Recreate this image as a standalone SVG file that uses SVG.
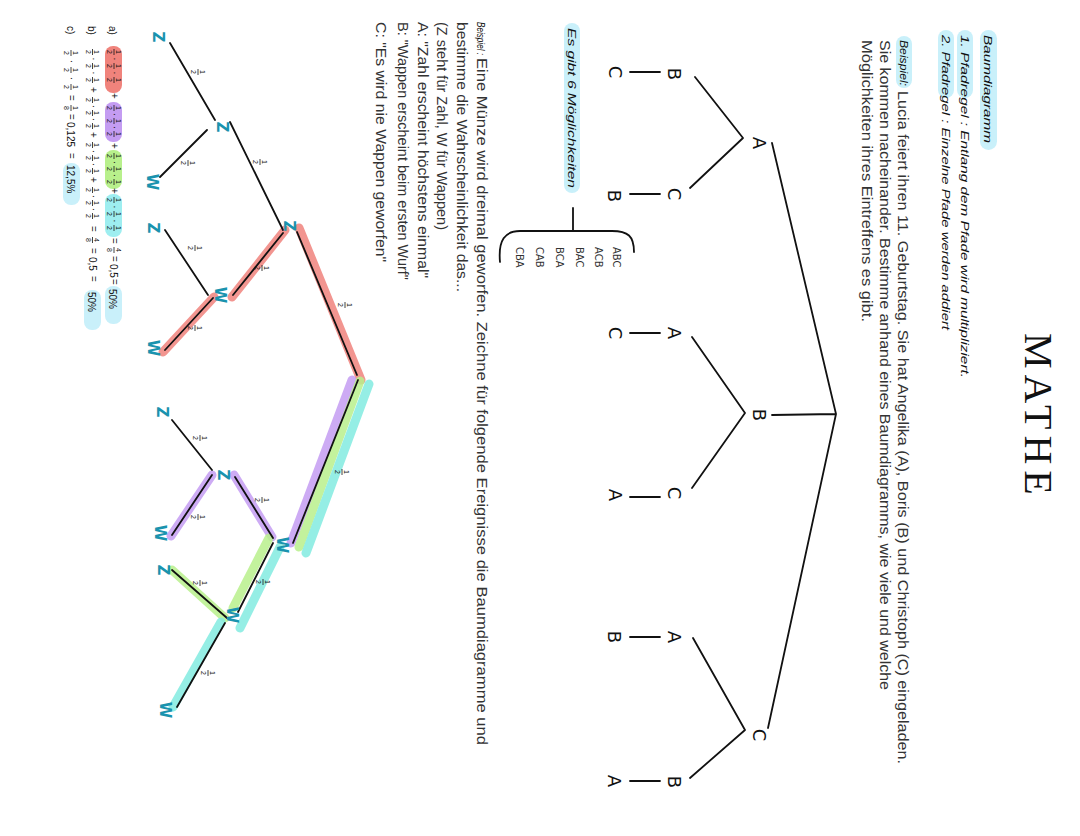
<svg xmlns="http://www.w3.org/2000/svg" width="1080" height="836" viewBox="0 0 1080 836">
<style>
.pr{font-family:"Liberation Sans",Arial,sans-serif;font-size:15px;fill:#333}
.hw{font-family:"Liberation Sans",Arial,sans-serif;font-style:italic;fill:#111}
.ttl{font-family:"Liberation Serif","Times New Roman",serif;font-size:40px;fill:#111;letter-spacing:6px}
.lbl{font-family:"DejaVu Sans",sans-serif;font-size:18px;fill:#111;text-anchor:middle}
.perm{font-family:"DejaVu Sans",sans-serif;font-size:10px;fill:#333}
.teal{font-family:"DejaVu Sans",sans-serif;font-weight:bold;font-size:15px;fill:#1a93ae;text-anchor:middle}
.pill{fill:#c9f0fa}
.e{stroke:#111;stroke-width:1.8;fill:none;stroke-linecap:round}
.hl{fill:none;stroke-width:9;stroke-linecap:round;opacity:.85}
.red{stroke:#f0837c}.pur{stroke:#c49cf2}.grn{stroke:#b8f08c}.cya{stroke:#82ebe0}
.pred{fill:#f0837c}.ppur{fill:#c49cf2}.pgrn{fill:#b8f08c}.pcya{fill:#9eeef0}
.f text{font-family:"Liberation Sans",Arial,sans-serif;font-size:7px;fill:#111;text-anchor:middle}
.f line{stroke:#111;stroke-width:.8}
.c{font-family:"Liberation Sans",Arial,sans-serif;font-size:10px;fill:#111}
.cm{font-family:"Liberation Sans",Arial,sans-serif;font-size:10px;fill:#111;text-anchor:middle}
</style>
<rect width="1080" height="836" fill="#fff"/>
<g transform="matrix(0,1,-1,0,1080,0)">
  <g id="title"><text class="ttl" x="333" y="55">MATHE</text></g>
  <g id="rules">
    <rect class="pill" x="30" y="83" width="120" height="17" rx="8.5"/>
    <text class="hw" x="35" y="96" font-size="11" textLength="108" lengthAdjust="spacingAndGlyphs">Baumdiagramm</text>
    <rect class="pill" x="30" y="107" width="68" height="16" rx="8"/>
    <text class="hw" x="35" y="119" font-size="11" textLength="343" lengthAdjust="spacingAndGlyphs">1. Pfadregel : Entlang dem Pfade wird multipliziert.</text>
    <rect class="pill" x="30" y="126" width="68" height="16" rx="8"/>
    <text class="hw" x="35" y="138" font-size="11" textLength="295" lengthAdjust="spacingAndGlyphs">2. Pfadregel : Einzelne Pfade werden addiert</text>
  </g>
  <g id="example1">
    <rect class="pill" x="36" y="168" width="52" height="16" rx="8"/>
    <text class="hw" x="40" y="180" font-size="11" textLength="46" lengthAdjust="spacingAndGlyphs">Beispiel:</text>
    <text class="pr" x="91" y="182" textLength="673" lengthAdjust="spacingAndGlyphs">Lucia feiert ihren 11. Geburtstag. Sie hat Angelika (A), Boris (B) und Christoph (C) eingeladen.</text>
    <text class="pr" x="40" y="200" textLength="650" lengthAdjust="spacingAndGlyphs">Sie kommen nacheinander. Bestimme anhand eines Baumdiagramms, wie viele und welche</text>
    <text class="pr" x="40" y="218" textLength="282" lengthAdjust="spacingAndGlyphs">Möglichkeiten ihres Eintreffens es gibt.</text>
  </g>
  <g id="connectors-tree1">
    <path class="e" d="M414 244 L143 308 M414 244 L415 308 M414 244 L728 312"/>
    <path class="e" d="M138 337 L77 385 M138 337 L188 390 M413 335 L337 388 M413 335 L488 388 M730 335 L638 387 M730 335 L778 390"/>
    <path class="e" d="M72 420 L72 450 M194 420 L194 450 M333 420 L333 450 M497 420 L497 450 M637 420 L637 450 M781 420 L781 450"/>
  </g>
  <g id="t1-A"><text class="lbl" x="143" y="327">A</text></g>
  <g id="t1-B"><text class="lbl" x="415" y="327">B</text></g>
  <g id="t1-C"><text class="lbl" x="735" y="327">C</text></g>
  <g id="t1-AB"><text class="lbl" x="74" y="412">B</text></g>
  <g id="t1-AC"><text class="lbl" x="194" y="412">C</text></g>
  <g id="t1-BA"><text class="lbl" x="333" y="412">A</text></g>
  <g id="t1-BC"><text class="lbl" x="493" y="412">C</text></g>
  <g id="t1-CA"><text class="lbl" x="637" y="412">A</text></g>
  <g id="t1-CB"><text class="lbl" x="782" y="412">B</text></g>
  <g id="t1-ABC"><text class="lbl" x="72" y="471">C</text></g>
  <g id="t1-ACB"><text class="lbl" x="196" y="472">B</text></g>
  <g id="t1-BAC"><text class="lbl" x="333" y="471">C</text></g>
  <g id="t1-BCA"><text class="lbl" x="495" y="471">A</text></g>
  <g id="t1-CAB"><text class="lbl" x="637" y="472">B</text></g>
  <g id="t1-CBA"><text class="lbl" x="781" y="472">A</text></g>
  <g id="result">
    <rect class="pill" x="23" y="500" width="170" height="16" rx="8"/>
    <text class="hw" x="28" y="512" font-size="10.5" textLength="160" lengthAdjust="spacingAndGlyphs">Es gibt 6 Möglichkeiten</text>
    <path class="e" stroke-width="1.6" d="M208 507 L231 507 M252 446 C236 446 231 452 231 468 L231 560 C231 575 240 582 262 580"/>
    <text class="perm" x="247" y="467">ABC</text>
    <text class="perm" x="247" y="485">ACB</text>
    <text class="perm" x="247" y="504">BAC</text>
    <text class="perm" x="247" y="524">BCA</text>
    <text class="perm" x="247" y="544">CAB</text>
    <text class="perm" x="247" y="564">CBA</text>
  </g>
  <g id="example2">
    <text class="hw" x="22" y="603" font-size="11" textLength="33" lengthAdjust="spacingAndGlyphs">Beispiel :</text>
    <text class="pr" x="58" y="603" textLength="687" lengthAdjust="spacingAndGlyphs">Eine Münze wird dreimal geworfen. Zeichne für folgende Ereignisse die Baumdiagramme und</text>
    <text class="pr" x="22" y="623" textLength="270" lengthAdjust="spacingAndGlyphs">bestimme die Wahrscheinlichkeit das...</text>
    <text class="pr" x="22" y="643" textLength="208" lengthAdjust="spacingAndGlyphs">(Z steht für Zahl, W für Wappen)</text>
    <text class="pr" x="22" y="662" textLength="256" lengthAdjust="spacingAndGlyphs">A: "Zahl erscheint höchstens einmal"</text>
    <text class="pr" x="22" y="682" textLength="258" lengthAdjust="spacingAndGlyphs">B: "Wappen erscheint beim ersten Wurf"</text>
    <text class="pr" x="22" y="704" textLength="240" lengthAdjust="spacingAndGlyphs">C: "Es wird nie Wappen geworfen"</text>
  </g>
  <g id="highlights">
    <path class="hl red" d="M380 719 L228 781 M230 795 L297 848 M297 866 L352 917"/>
    <path class="hl pur" d="M380 728 L543 789 M537 808 L475 846 M475 868 L536 909"/>
    <path class="hl grn" d="M381 720 L547 781 M538 811 L608 847 M618 855 L570 908"/>
    <path class="hl cya" d="M384 711 L553 774 M547 800 L628 840 M622 859 L707 907"/>
  </g>
  <g id="connectors-tree2">
    <path class="e" d="M375 723 L232 783 M380 722 L543 787"/>
    <path class="e" d="M230 797 L122 850 M233 797 L295 847 M538 807 L477 845 M543 807 L612 842"/>
    <path class="e" d="M120 865 L43 910 M130 873 L177 920 M295 872 L230 915 M298 867 L350 915 M470 868 L420 908 M475 868 L535 908 M618 853 L570 908 M623 855 L707 903"/>
  </g>
  <g id="t2-fractions" class="f">
    <g transform="translate(305,735)"><text y="-1.5">1</text><line x1="-3" x2="3"/><text y="7">2</text></g>
    <g transform="translate(472,738)"><text y="-1.5">1</text><line x1="-3" x2="3"/><text y="7">2</text></g>
    <g transform="translate(162,820)"><text y="-1.5">1</text><line x1="-3" x2="3"/><text y="7">2</text></g>
    <g transform="translate(268,818)"><text y="-1.5">1</text><line x1="-3" x2="3"/><text y="7">2</text></g>
    <g transform="translate(72,882)"><text y="-1.5">1</text><line x1="-3" x2="3"/><text y="7">2</text></g>
    <g transform="translate(163,892)"><text y="-1.5">1</text><line x1="-3" x2="3"/><text y="7">2</text></g>
    <g transform="translate(248,885)"><text y="-1.5">1</text><line x1="-3" x2="3"/><text y="7">2</text></g>
    <g transform="translate(328,885)"><text y="-1.5">1</text><line x1="-3" x2="3"/><text y="7">2</text></g>
    <g transform="translate(500,818)"><text y="-1.5">1</text><line x1="-3" x2="3"/><text y="7">2</text></g>
    <g transform="translate(582,817)"><text y="-1.5">1</text><line x1="-3" x2="3"/><text y="7">2</text></g>
    <g transform="translate(438,880)"><text y="-1.5">1</text><line x1="-3" x2="3"/><text y="7">2</text></g>
    <g transform="translate(517,882)"><text y="-1.5">1</text><line x1="-3" x2="3"/><text y="7">2</text></g>
    <g transform="translate(583,880)"><text y="-1.5">1</text><line x1="-3" x2="3"/><text y="7">2</text></g>
    <g transform="translate(673,872)"><text y="-1.5">1</text><line x1="-3" x2="3"/><text y="7">2</text></g>
  </g>
  <g id="t2-Z"><text class="teal" x="226" y="796">Z</text></g>
  <g id="t2-W"><text class="teal" x="545" y="803">W</text></g>
  <g id="t2-ZZ"><text class="teal" x="127" y="863">Z</text></g>
  <g id="t2-ZW"><text class="teal" x="295" y="865">W</text></g>
  <g id="t2-ZZZ"><text class="teal" x="37" y="927">Z</text></g>
  <g id="t2-ZZW"><text class="teal" x="182" y="933">W</text></g>
  <g id="t2-ZWZ"><text class="teal" x="228" y="932">Z</text></g>
  <g id="t2-ZWW"><text class="teal" x="348" y="932">W</text></g>
  <g id="t2-WZ"><text class="teal" x="475" y="862">Z</text></g>
  <g id="t2-WW"><text class="teal" x="615" y="853">W</text></g>
  <g id="t2-WZZ"><text class="teal" x="412" y="923">Z</text></g>
  <g id="t2-WZW"><text class="teal" x="533" y="925">W</text></g>
  <g id="t2-WWZ"><text class="teal" x="570" y="922">Z</text></g>
  <g id="t2-WWW"><text class="teal" x="710" y="920">W</text></g>
  <g id="calc-a">
    <rect class="pred" x="46" y="958" width="47" height="17" rx="8"/>
    <rect class="ppur" x="102" y="958" width="40" height="17" rx="8"/>
    <rect class="pgrn" x="150" y="958" width="39" height="17" rx="8"/>
    <rect class="pcya" x="194" y="958" width="43" height="17" rx="8"/>
    <rect class="pill" x="286" y="958" width="38" height="17" rx="8"/>
    <text class="c" x="26" y="971" font-size="11">a)</text>
    <g class="f">
      <g transform="translate(52,966)"><text y="-1.5">1</text><line x1="-3" x2="3"/><text y="7">2</text></g>
      <g transform="translate(66,966)"><text y="-1.5">1</text><line x1="-3" x2="3"/><text y="7">2</text></g>
      <g transform="translate(80,966)"><text y="-1.5">1</text><line x1="-3" x2="3"/><text y="7">2</text></g>
      <g transform="translate(108,966)"><text y="-1.5">1</text><line x1="-3" x2="3"/><text y="7">2</text></g>
      <g transform="translate(121,966)"><text y="-1.5">1</text><line x1="-3" x2="3"/><text y="7">2</text></g>
      <g transform="translate(134,966)"><text y="-1.5">1</text><line x1="-3" x2="3"/><text y="7">2</text></g>
      <g transform="translate(156,966)"><text y="-1.5">1</text><line x1="-3" x2="3"/><text y="7">2</text></g>
      <g transform="translate(169,966)"><text y="-1.5">1</text><line x1="-3" x2="3"/><text y="7">2</text></g>
      <g transform="translate(182,966)"><text y="-1.5">1</text><line x1="-3" x2="3"/><text y="7">2</text></g>
      <g transform="translate(200,966)"><text y="-1.5">1</text><line x1="-3" x2="3"/><text y="7">2</text></g>
      <g transform="translate(214,966)"><text y="-1.5">1</text><line x1="-3" x2="3"/><text y="7">2</text></g>
      <g transform="translate(228,966)"><text y="-1.5">1</text><line x1="-3" x2="3"/><text y="7">2</text></g>
      <g transform="translate(250,966)"><text y="-1.5">4</text><line x1="-3" x2="3"/><text y="7">8</text></g>
    </g>
    <text class="cm" x="59" y="969">·</text><text class="cm" x="73" y="969">·</text>
    <text class="cm" x="96" y="969">+</text>
    <text class="cm" x="114.5" y="969">·</text><text class="cm" x="127.5" y="969">·</text>
    <text class="cm" x="146" y="969">+</text>
    <text class="cm" x="162.5" y="969">·</text><text class="cm" x="175.5" y="969">·</text>
    <text class="cm" x="191" y="969">+</text>
    <text class="cm" x="207" y="969">·</text><text class="cm" x="221" y="969">·</text>
    <text class="cm" x="241" y="969">=</text>
    <text class="cm" x="259" y="969">=</text>
    <text class="c" x="264" y="970">0,5</text>
    <text class="cm" x="282" y="969">=</text>
    <text class="c" x="289" y="971" font-size="11">50%</text>
  </g>
  <g id="calc-b">
    <rect class="pill" x="290" y="979" width="40" height="17" rx="8"/>
    <text class="c" x="26" y="992" font-size="11">b)</text>
    <g class="f">
      <g transform="translate(52,987.5)"><text y="-1.5">1</text><line x1="-3" x2="3"/><text y="7">2</text></g>
      <g transform="translate(66,987.5)"><text y="-1.5">1</text><line x1="-3" x2="3"/><text y="7">2</text></g>
      <g transform="translate(80,987.5)"><text y="-1.5">1</text><line x1="-3" x2="3"/><text y="7">2</text></g>
      <g transform="translate(100,987.5)"><text y="-1.5">1</text><line x1="-3" x2="3"/><text y="7">2</text></g>
      <g transform="translate(113,987.5)"><text y="-1.5">1</text><line x1="-3" x2="3"/><text y="7">2</text></g>
      <g transform="translate(126,987.5)"><text y="-1.5">1</text><line x1="-3" x2="3"/><text y="7">2</text></g>
      <g transform="translate(145,987.5)"><text y="-1.5">1</text><line x1="-3" x2="3"/><text y="7">2</text></g>
      <g transform="translate(158,987.5)"><text y="-1.5">1</text><line x1="-3" x2="3"/><text y="7">2</text></g>
      <g transform="translate(171,987.5)"><text y="-1.5">1</text><line x1="-3" x2="3"/><text y="7">2</text></g>
      <g transform="translate(190,987.5)"><text y="-1.5">1</text><line x1="-3" x2="3"/><text y="7">2</text></g>
      <g transform="translate(203,987.5)"><text y="-1.5">1</text><line x1="-3" x2="3"/><text y="7">2</text></g>
      <g transform="translate(216,987.5)"><text y="-1.5">1</text><line x1="-3" x2="3"/><text y="7">2</text></g>
      <g transform="translate(240,987.5)"><text y="-1.5">4</text><line x1="-3" x2="3"/><text y="7">8</text></g>
    </g>
    <text class="cm" x="59" y="990.5">·</text><text class="cm" x="73" y="990.5">·</text>
    <text class="cm" x="90" y="990.5">+</text>
    <text class="cm" x="106.5" y="990.5">·</text><text class="cm" x="119.5" y="990.5">·</text>
    <text class="cm" x="135" y="990.5">+</text>
    <text class="cm" x="151.5" y="990.5">·</text><text class="cm" x="164.5" y="990.5">·</text>
    <text class="cm" x="180" y="990.5">+</text>
    <text class="cm" x="196.5" y="990.5">·</text><text class="cm" x="209.5" y="990.5">·</text>
    <text class="cm" x="229" y="990.5">=</text>
    <text class="cm" x="251" y="990.5">=</text>
    <text class="c" x="257" y="991.5">0,5</text>
    <text class="cm" x="279" y="990.5">=</text>
    <text class="c" x="292" y="992" font-size="11">50%</text>
  </g>
  <g id="calc-c">
    <rect class="pill" x="163" y="1000" width="42" height="17" rx="8"/>
    <text class="c" x="26" y="1013" font-size="11">c)</text>
    <g class="f">
      <g transform="translate(53,1009)"><text y="-1.5">1</text><line x1="-3" x2="3"/><text y="7">2</text></g>
      <g transform="translate(70,1009)"><text y="-1.5">1</text><line x1="-3" x2="3"/><text y="7">2</text></g>
      <g transform="translate(87,1009)"><text y="-1.5">1</text><line x1="-3" x2="3"/><text y="7">2</text></g>
      <g transform="translate(108,1009)"><text y="-1.5">1</text><line x1="-3" x2="3"/><text y="7">8</text></g>
    </g>
    <text class="cm" x="61.5" y="1012">·</text><text class="cm" x="78.5" y="1012">·</text>
    <text class="cm" x="98" y="1012">=</text>
    <text class="cm" x="117" y="1012">=</text>
    <text class="c" x="122" y="1013">0,125</text>
    <text class="cm" x="156" y="1012">=</text>
    <text class="c" x="165" y="1013" font-size="11">12,5%</text>
  </g>
</g>
</svg>
